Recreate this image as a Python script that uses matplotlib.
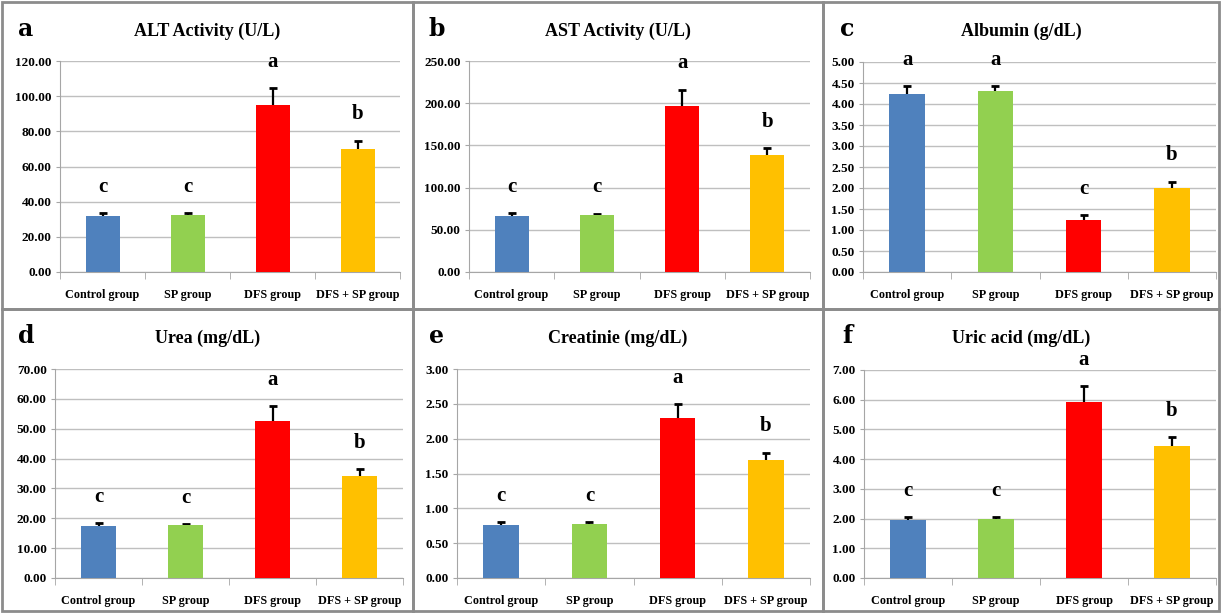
import numpy as np
import matplotlib
matplotlib.use("Agg")
import matplotlib.pyplot as plt
from matplotlib.patches import Rectangle

plt.rcParams['font.family'] = ['Liberation Serif', 'DejaVu Serif']

groups = ["Control group", "SP group", "DFS group", "DFS + SP group"]
colors = ["#4F81BD", "#92D050", "#FF0000", "#FFC000"]

alt = [31.8, 32.3, 95.1, 70.1]
alt_err = [1.8, 1.3, 9.4, 4.6]
ast = [66.0, 67.0, 197.0, 139.0]
ast_err = [4.0, 2.0, 19.0, 8.0]
albumin = [4.23, 4.30, 1.23, 2.00]
albumin_err = [0.20, 0.13, 0.13, 0.15]
urea = [17.5, 17.6, 52.5, 34.3]
urea_err = [0.9, 0.6, 5.0, 2.3]
creat = [0.76, 0.77, 2.29, 1.69]
creat_err = [0.04, 0.03, 0.21, 0.11]
uric = [1.94, 1.99, 5.91, 4.45]
uric_err = [0.10, 0.05, 0.55, 0.28]

letters_alt = ["c", "c", "a", "b"]
letters_ast = ["c", "c", "a", "b"]
letters_alb = ["a", "a", "c", "b"]
letters_urea = ["c", "c", "a", "b"]
letters_creat = ["c", "c", "a", "b"]
letters_uric = ["c", "c", "a", "b"]

W, H = 1221, 613
fig = plt.figure(figsize=(W / 100, H / 100), dpi=100)

# panel boxes (pixel coords)
cols = [(2, 413), (413, 823), (823, 1219)]
rows = [(2, 309), (309, 611)]

panels = [
    ("a", "ALT Activity (U/L)", alt, alt_err, letters_alt, 120, 20, (60, 400, 61, 272), 0, 0),
    ("b", "AST Activity (U/L)", ast, ast_err, letters_ast, 250, 50, (469, 810, 61, 272), 1, 0),
    ("c", "Albumin (g/dL)", albumin, albumin_err, letters_alb, 5, 0.5, (863, 1216, 62, 272), 2, 0),
    ("d", "Urea (mg/dL)", urea, urea_err, letters_urea, 70, 10, (55, 403, 369, 578), 0, 1),
    ("e", "Creatinie (mg/dL)", creat, creat_err, letters_creat, 3, 0.5, (457, 810, 369, 578), 1, 1),
    ("f", "Uric acid (mg/dL)", uric, uric_err, letters_uric, 7, 1, (864, 1216, 370, 578), 2, 1),
]

x = np.arange(len(groups))
for tag, title, vals, err, lets, ymax, step, box, ci, ri in panels:
    x0, x1 = cols[ci]
    y0, y1 = rows[ri]
    fig.add_artist(Rectangle((x0 / W, 1 - y1 / H), (x1 - x0) / W, (y1 - y0) / H,
                             transform=fig.transFigure, fill=False,
                             edgecolor="#8C8C8C", lw=2))
    fig.text((x0 + 24) / W, 1 - (y0 + 27) / H, tag, fontsize=17, fontweight="bold",
             family=["DejaVu Serif"], ha="center", va="center")
    fig.text((x0 + x1) / 2 / W, 1 - (y0 + 29) / H, title, fontsize=13,
             fontweight="bold", ha="center", va="center")

    l, r, t, b = box
    ax = fig.add_axes([l / W, 1 - b / H, (r - l) / W, (b - t) / H])
    ax.bar(x, vals, width=0.4, color=colors, edgecolor="none", zorder=3)
    # error bars drawn behind bars so only the upper half shows
    ax.errorbar(x, vals, yerr=err, fmt="none",
                ecolor="black", elinewidth=1.6, capsize=3, capthick=2, zorder=2.5)
    for xi, v, e, lt in zip(x, vals, err, lets):
        ax.text(xi, v + e + 0.125 * ymax, lt, ha="center", va="center",
                fontsize=15, fontweight="bold")
    ax.set_xlim(-0.5, 3.5)
    ax.set_ylim(0, ymax)
    ax.set_yticks(np.arange(0, ymax + step / 2, step))
    ax.set_yticklabels([f"{v:.2f}" for v in np.arange(0, ymax + step / 2, step)],
                       fontsize=9.5, fontweight="bold")
    ax.set_xticks(x)
    ax.set_xticklabels(groups, fontsize=8.7, fontweight="bold")
    ax.set_xticks(np.arange(-0.5, 4, 1), minor=True)
    ax.tick_params(axis="x", which="major", length=0, pad=12)
    ax.tick_params(axis="x", which="minor", length=5, color="#A6A6A6", direction="out")
    ax.tick_params(axis="y", length=3, color="#A6A6A6", pad=3)
    ax.grid(axis="y", color="#BFBFBF", lw=1, zorder=0)
    ax.set_axisbelow(True)
    for s in ["top", "right"]:
        ax.spines[s].set_visible(False)
    for s in ["left", "bottom"]:
        ax.spines[s].set_color("#A6A6A6")

fig.savefig("out.png", dpi=100)
